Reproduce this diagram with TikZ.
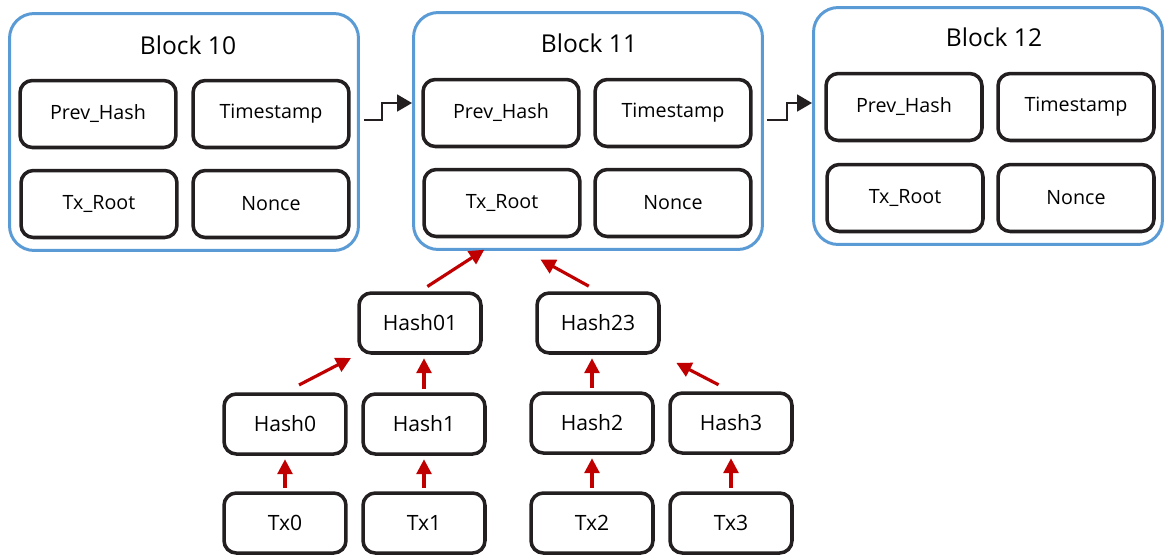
\documentclass[tikz,border=0pt]{standalone}
\usepackage{fontspec}
\setmainfont{Open Sans}
\usetikzlibrary{arrows.meta}
\definecolor{blockblue}{RGB}{91,155,213}
\definecolor{linkred}{RGB}{192,0,0}
\definecolor{boxblack}{RGB}{35,31,32}

\begin{document}
\begin{tikzpicture}[x=0.02cm,y=-0.02cm,
    block/.style={rectangle,rounded corners=14pt,draw=blockblue,line width=1.7pt,
                  minimum width=6.98cm,minimum height=4.74cm},
    block title/.style={font=\fontsize{14}{17}\selectfont},
    field/.style={rectangle,rounded corners=7pt,draw=boxblack,line width=2pt,
                  minimum width=3.12cm,minimum height=1.34cm,font=\fontsize{11.2}{14}\selectfont},
    tree node/.style={field,minimum width=2.44cm,minimum height=1.2cm,font=\fontsize{12}{14}\selectfont},
    hash link/.style={-{Triangle[length=8.5pt,width=8.5pt]},color=linkred,line width=1.8pt,
                      shorten <=2pt,shorten >=2pt},
    chain link/.style={-{Triangle[length=8.5pt,width=9.5pt]},color=boxblack,line width=1.4pt}]
  \useasboundingbox (0,0) rectangle (1170,556);

  % blocks
  \node[block] (b10) at (184,132) {};
  \node[block] (b11) at (588,131) {};
  \node[block] (b12) at (988,126) {};
  \node[block title] (t10) at (188,45) {Block 10};
  \node[block title] (t11) at (589,43) {Block 11};
  \node[block title] (t12) at (994,37) {Block 12};

  \node[field] (ph10) at (98,114) {Prev\_Hash};
  \node[field] (ts10) at (271,114) {Timestamp};
  \node[field] (tr10) at (99,204) {Tx\_Root};
  \node[field] (nc10) at (271,204) {Nonce};

  \node[field] (ph11) at (501,113) {Prev\_Hash};
  \node[field] (ts11) at (673,113) {Timestamp};
  \node[field] (tr11) at (502,203) {Tx\_Root};
  \node[field] (nc11) at (673,203) {Nonce};

  \node[field] (ph12) at (904,107) {Prev\_Hash};
  \node[field] (ts12) at (1076,107) {Timestamp};
  \node[field] (tr12) at (905,198) {Tx\_Root};
  \node[field] (nc12) at (1076,198) {Nonce};

  % merkle tree
  \node[tree node] (h01) at (420,323) {Hash01};
  \node[tree node] (h23) at (598,323) {Hash23};
  \node[tree node] (h0) at (285,424) {Hash0};
  \node[tree node] (h1) at (424,424) {Hash1};
  \node[tree node] (h2) at (592,423) {Hash2};
  \node[tree node] (h3) at (731,423) {Hash3};
  \node[tree node] (tx0) at (285,523) {Tx0};
  \node[tree node] (tx1) at (424,523) {Tx1};
  \node[tree node] (tx2) at (592,523) {Tx2};
  \node[tree node] (tx3) at (731,523) {Tx3};

  \path[hash link]
    (tx0) edge (h0)
    (tx1) edge (h1)
    (tx2) edge (h2)
    (tx3) edge (h3)
    (h0.north) edge[shorten <=9pt,shorten >=4pt] (h01.south west)
    (h1.north) edge (h1.north |- h01.south)
    (h2.north) edge (h2.north |- h23.south)
    (h3.north) edge[shorten <=8pt,shorten >=10pt] (h23.south east)
    (h01.north) edge[shorten <=5pt,shorten >=12pt] (tr11.south)
    (h23.north) edge[shorten <=6pt,shorten >=25pt] (tr11.south);

  % chain
  \draw[chain link] ([xshift=0.08cm,yshift=0.24cm]b10.east) -- ++(18,0) |- ([yshift=0.56cm]b11.west);
  \draw[chain link] ([xshift=0.06cm,yshift=0.22cm]b11.east) -- ++(20,0) |- ([yshift=0.46cm]b12.west);
\end{tikzpicture}
\end{document}
